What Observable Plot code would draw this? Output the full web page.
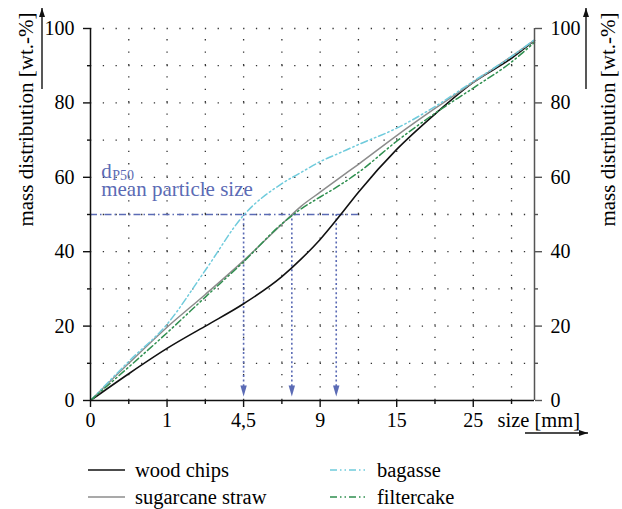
<!DOCTYPE html>
<html><head><meta charset="utf-8">
<script src="https://cdn.jsdelivr.net/npm/d3@7"></script>
<script src="https://cdn.jsdelivr.net/npm/@observablehq/plot@0.6"></script>
<style>
body{margin:0;background:#fff;}
#wrap{position:relative;width:622px;height:509px;font-family:'Liberation Serif',serif;}
.leg{position:absolute;font-size:20.5px;color:#000;display:flex;align-items:center;height:24px;white-space:nowrap;font-family:'Liberation Serif',serif;}
.leg svg{margin-right:10px;}
</style></head><body><div id="wrap"></div>
<script>
// x positions are the evenly spaced size-class index (0 -> 0 mm, 1 -> 1 mm, 2 -> 4,5 mm, ...)
const sizeIndex   = [0, 0.5, 1, 1.5, 2, 2.5, 2.75, 3, 3.25, 3.5, 4, 4.5, 5, 5.5, 5.8];
const woodChips   = [0, 7.2, 14, 20, 26, 33.3, 38, 43.3, 49.5, 56, 67.5, 77, 85.5, 92, 96.8];
const sugarcane   = [0, 10, 19.7, 28.5, 37.6, 47.4, 52.2, 56, 59.8, 63.5, 71.2, 78.5, 85.5, 92.5, 96.8];
const bagasse     = [0, 10.5, 20.5, 35, 49.8, 58.3, 61.3, 64.2, 66.5, 68.8, 73.2, 79, 85.8, 92.5, 97];
const filtercake  = [0, 9, 18.2, 27.8, 37.3, 47.5, 51.5, 54.7, 57.8, 61.3, 69.7, 77.2, 84, 91, 96.3];
const seriesNames = ["wood chips", "sugarcane straw", "bagasse", "filtercake"];
const seriesColors = ["#111111", "#8c8c8c", "#6fcbdc", "#2f8f4f"];
const seriesDash = [null, null, "7,3,1.5,3,1.5,3", "7,3,1.5,3,1.5,3"];
const tickIndex  = [0, 1, 2, 3, 4, 5];
const tickLabels = ["0", "1", "4,5", "9", "15", "25"];
const yMajor = [0, 20, 40, 60, 80, 100];
const yMinor = [10, 30, 50, 70, 90];
const d50Index = [2.0, 2.63, 3.21];
const blue = "#5b6bb5";
const FONT = "'Liberation Serif', serif";

const allValues = [woodChips, sugarcane, bagasse, filtercake];
const table = [];
seriesNames.forEach((s, k) => sizeIndex.forEach((x, i) => table.push({series: s, x, y: allValues[k][i]})));

const arrowHead = {draw(ctx){ ctx.moveTo(-3.2, -11); ctx.lineTo(3.2, -11); ctx.lineTo(0, 0); ctx.closePath(); }};

const lineMarks = seriesNames.map((s, k) => Plot.line(table.filter(d => d.series === s), {
  x: "x", y: "y", stroke: seriesColors[k], strokeWidth: k === 0 ? 1.6 : 1.5,
  strokeDasharray: seriesDash[k], curve: "monotone-x"
}));

const plot = Plot.plot({
  width: 622, height: 445,
  marginLeft: 90, marginRight: 88, marginTop: 28, marginBottom: 45,
  x: {domain: [0, 5.8], axis: null},
  y: {domain: [0, 100], axis: null},
  style: {fontFamily: FONT, fontSize: "20px", color: "#000", background: "white", overflow: "visible"},
  marks: [
    Plot.ruleY(d3.range(10, 101, 10), {x1: 0, x2: 5.8, stroke: "#333", strokeWidth: 1.3, strokeDasharray: "1.3,11.46"}),
    Plot.ruleX(d3.range(0.5, 5.6, 0.5), {y1: 0, y2: 100, stroke: "#333", strokeWidth: 1.3, strokeDasharray: "1.3,11.1"}),
    Plot.ruleY([50], {x1: 0, x2: 3.5, stroke: blue, strokeWidth: 1.3, strokeDasharray: "7,3,1.5,3"}),
    Plot.ruleX(d50Index, {y1: 50, y2: 3, stroke: blue, strokeWidth: 1.6, strokeDasharray: "2,2.6"}),
    Plot.dot(d50Index, {x: d => d, y: 1.1, symbol: arrowHead, fill: blue, stroke: "none"}),
    ...lineMarks,
    Plot.ruleX([0], {y1: 0, y2: 100, stroke: "#111", strokeWidth: 1.5}),
    Plot.ruleX([5.8], {y1: 0, y2: 100, stroke: "#555", strokeWidth: 1.5}),
    Plot.ruleY([0], {x1: 0, x2: 5.8, stroke: "#111", strokeWidth: 1.5}),
    Plot.axisY({anchor: "left", ticks: yMajor, tickSize: 7, tickPadding: 9, label: null, stroke: "#111", strokeWidth: 1.4, fontSize: 20}),
    Plot.axisY({anchor: "left", ticks: yMinor, tickSize: 3, text: null, label: null, stroke: "#111", strokeWidth: 1.4}),
    Plot.axisY({anchor: "right", ticks: yMajor, tickSize: 7, tickPadding: 9, label: null, stroke: "#555", strokeWidth: 1.4, fontSize: 20}),
    Plot.axisY({anchor: "right", ticks: yMinor, tickSize: 3, text: null, label: null, stroke: "#555", strokeWidth: 1.4}),
    Plot.axisX({anchor: "bottom", ticks: tickIndex, tickSize: 7, tickPadding: 5, label: null, fontSize: 20,
      tickFormat: d => tickLabels[tickIndex.indexOf(d)], stroke: "#111", strokeWidth: 1.4}),
    Plot.axisX({anchor: "bottom", ticks: d3.range(0.5, 5.6, 1), tickSize: 4, text: null, label: null, stroke: "#111", strokeWidth: 1.4}),
    Plot.text(["size [mm]"], {frameAnchor: "bottom-right", dx: -37, dy: 12, textAnchor: "start", lineAnchor: "top", fontSize: 20.5, fill: "#000"}),
    Plot.text(["mass distribution [wt.-%]"], {frameAnchor: "top-left", dx: -58, dy: -16, rotate: -90, textAnchor: "end", lineAnchor: "bottom", fontSize: 21, fill: "#000"}),
    Plot.text(["mass distribution [wt.-%]"], {frameAnchor: "top-right", dx: 80, dy: -16, rotate: -90, textAnchor: "end", lineAnchor: "bottom", fontSize: 21, fill: "#000"}),
    Plot.text(["d"], {x: 0.14, y: 59.7, textAnchor: "start", lineAnchor: "bottom", fontSize: 21, fill: blue}),
    Plot.text(["P50"], {x: 0.14, y: 59.7, dx: 11, dy: 2, textAnchor: "start", lineAnchor: "bottom", fontSize: 14, fill: blue}),
    Plot.text(["mean particle size"], {x: 0.14, y: 55.1, textAnchor: "start", lineAnchor: "bottom", fontSize: 21, fill: blue})
  ]
});

// axis direction arrows
const svg = d3.select(plot);
function arrow(x1, y1, x2, y2, color) {
  svg.append("line").attr("x1", x1).attr("y1", y1).attr("x2", x2).attr("y2", y2)
    .attr("stroke", color).attr("stroke-width", 1.4);
  const ang = Math.atan2(y2 - y1, x2 - x1);
  const L = 9, W = 3;
  const bx = x2 - L * Math.cos(ang), by = y2 - L * Math.sin(ang);
  const px = -Math.sin(ang) * W, py = Math.cos(ang) * W;
  svg.append("polygon").attr("points", `${x2},${y2} ${bx + px},${by + py} ${bx - px},${by - py}`).attr("fill", color);
}
arrow(42, 89, 42, 8, "#111");
arrow(586, 89, 586, 8, "#111");
arrow(525, 433, 588, 433, "#111");

const wrap = document.getElementById("wrap");
wrap.appendChild(plot);

const legPos = [[88, 458], [88, 485], [330, 458], [330, 485]];
seriesNames.forEach((s, k) => {
  const d = document.createElement("div");
  d.className = "leg";
  d.style.left = legPos[k][0] + "px";
  d.style.top = legPos[k][1] + "px";
  const dash = seriesDash[k] ? `stroke-dasharray="${seriesDash[k]}"` : "";
  d.innerHTML = `<svg width="37" height="4"><line x1="0" y1="2" x2="37" y2="2" stroke="${seriesColors[k]}" stroke-width="1.6" ${dash}/></svg><span>${s}</span>`;
  wrap.appendChild(d);
});
</script>
</body></html>
